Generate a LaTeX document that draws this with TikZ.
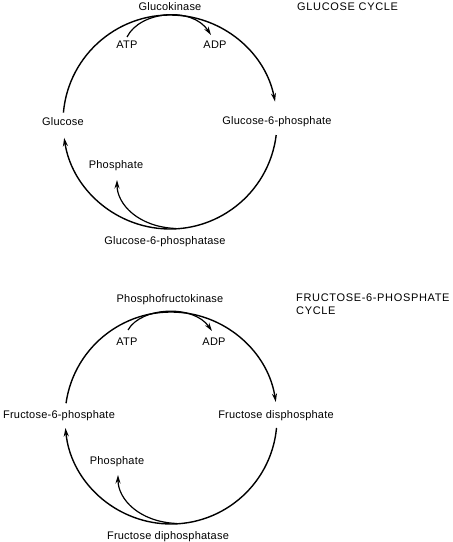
\documentclass[tikz,border=0pt]{standalone}
\usepackage{fontspec}
\setmainfont{Liberation Sans}[LetterSpace=2]
\newfontfamily\capsfont{Liberation Sans}[LetterSpace=6]
\usetikzlibrary{arrows.meta}
\begin{document}
\begin{tikzpicture}[x=1pt,y=1pt,
  lbl/.style={font=\fontsize{11}{13}\selectfont, inner sep=0pt},
  caps/.style={font=\capsfont\fontsize{11}{13}\selectfont, inner sep=0pt},
  cyc/.style={line width=1.4pt},
  arr/.style={-{Stealth[length=8.5pt,width=5pt]}},
  branch/.style={line width=1.2pt}]
\useasboundingbox (0,0) rectangle (453,542);
% ---------- Glucose cycle ----------
\coordinate (c1) at (170,420);
\node[lbl] (gk) at (170,535) {Glucokinase};
\node[caps, anchor=west] (gc) at (297,535) {GLUCOSE CYCLE};
\node[lbl] (atp1) at (127,497) {ATP};
\node[lbl] (adp1) at (215,497) {ADP};
\node[lbl] (glc) at (63,420) {Glucose};
\node[lbl] (g6p) at (277,420) {Glucose-6-phosphate};
\node[lbl] (ph1) at (116,376) {Phosphate};
\node[lbl] (g6pase) at (165,300) {Glucose-6-phosphatase};
\draw[cyc,arr] (c1) ++(175:107) arc[start angle=175, end angle=11, radius=107];
\draw[cyc,arr] (c1) ++(-7:107) arc[start angle=-7, end angle=-171.5, radius=107];
\coordinate (a1s) at (127,505);
\coordinate (a1e) at (211,507);
\draw[branch,arr] (a1s) .. controls (140,531) and (192,536) .. (a1e);
\coordinate (b1s) at (176,313.5);
\coordinate (b1e) at (117,362);
\draw[branch,arr] (b1s) .. controls (138,315) and (117,338) .. (b1e);
% ---------- Fructose-6-phosphate cycle ----------
\coordinate (c2) at (171,124);
\node[lbl] (pfk) at (170,242) {Phosphofructokinase};
\node[caps, anchor=north west, align=left] (fc) at (296,248) {FRUCTOSE-6-PHOSPHATE\\CYCLE};
\node[lbl] (atp2) at (127,200) {ATP};
\node[lbl] (adp2) at (214,200) {ADP};
\node[lbl] (f6p) at (59,126) {Fructose-6-phosphate};
\node[lbl] (fdp) at (276,126) {Fructose disphosphate};
\node[lbl] (ph2) at (117,80) {Phosphate};
\node[lbl] (fdpase) at (168,5) {Fructose diphosphatase};
\draw[cyc,arr] (c2) ++(172:106) arc[start angle=172, end angle=8.7, radius=106];
\draw[cyc,arr] (c2) ++(-5.4:106) arc[start angle=-5.4, end angle=-174.6, radius=106];
\coordinate (a2s) at (128,212);
\coordinate (a2e) at (212,211);
\draw[branch,arr] (a2s) .. controls (141,235) and (193,238) .. (a2e);
\coordinate (b2s) at (177,18.5);
\coordinate (b2e) at (118,67);
\draw[branch,arr] (b2s) .. controls (139,20) and (118,43) .. (b2e);
\end{tikzpicture}
\end{document}
